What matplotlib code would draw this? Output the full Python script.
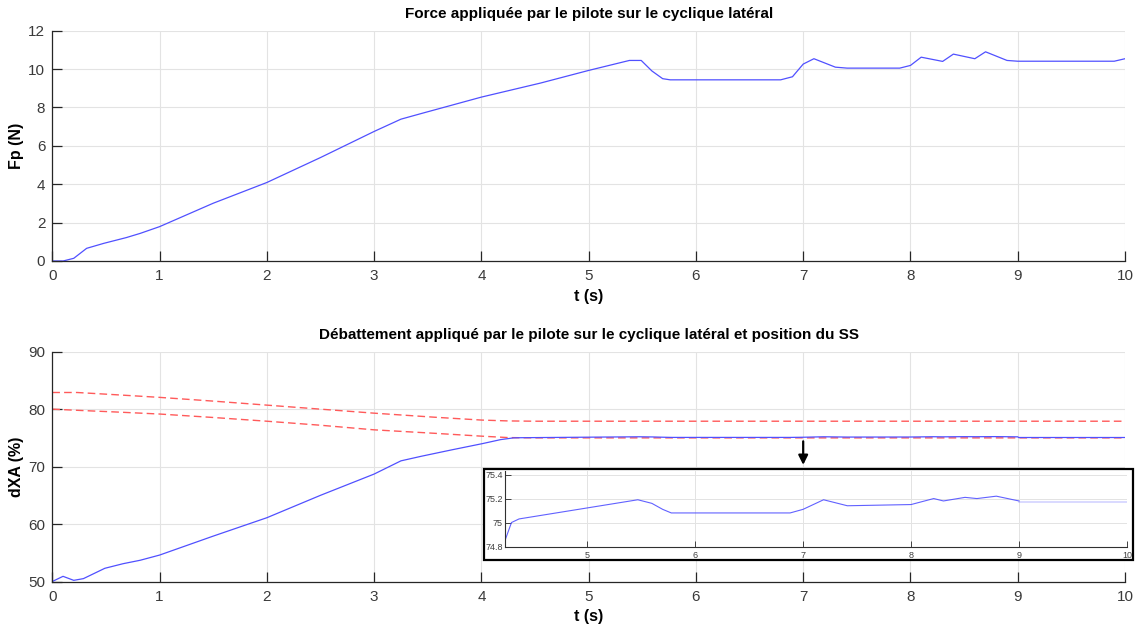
import matplotlib
matplotlib.use("Agg")
import matplotlib.pyplot as plt
from matplotlib.patches import Rectangle

plt.rcParams['font.family'] = ['Liberation Sans', 'DejaVu Sans']

# ---- data ----
t_fp = [0, 0.1, 0.2, 0.32, 0.48, 0.69, 0.82, 1.0, 1.5, 2.0, 2.5, 3.0, 3.25, 3.45,
        4.0, 4.55, 5.0, 5.38, 5.49, 5.59, 5.69, 5.76, 6.79, 6.9, 7.0, 7.1, 7.3, 7.41,
        7.9, 8.0, 8.1, 8.3, 8.4, 8.6, 8.7, 8.9, 9.0, 9.9, 10.0]
fp = [0, 0, 0.14, 0.66, 0.92, 1.22, 1.44, 1.79, 3.01, 4.09, 5.39, 6.75, 7.39, 7.7,
      8.54, 9.27, 9.93, 10.45, 10.45, 9.9, 9.5, 9.44, 9.44, 9.6, 10.26, 10.54, 10.1, 10.05,
      10.05, 10.19, 10.62, 10.4, 10.78, 10.54, 10.9, 10.45, 10.41, 10.41, 10.54]

t_dxa = [0, 0.1, 0.2, 0.29, 0.49, 0.66, 0.82, 1.0, 1.5, 2.0, 2.5, 3.0, 3.25, 3.44,
         3.72, 4.01, 4.18, 4.24, 4.30, 4.37, 5.47, 5.6, 5.7, 5.78, 6.88, 7.0, 7.19,
         7.41, 8.0, 8.21, 8.3, 8.5, 8.61, 8.79, 9.0]
dxa = [50, 50.9, 50.2, 50.5, 52.3, 53.1, 53.7, 54.6, 57.9, 61.1, 65.0, 68.7, 71.0, 71.8,
       72.9, 74.0, 74.7, 74.85, 75.0, 75.03, 75.19, 75.16, 75.11, 75.08, 75.08, 75.11, 75.19,
       75.14, 75.15, 75.2, 75.18, 75.21, 75.2, 75.22, 75.18]
t_dxa_end = [9.0, 10.0]
dxa_end = [75.175, 75.175]

t_ss = [0, 0.23, 0.6, 1.0, 1.5, 2.0, 2.5, 3.0, 3.56, 4.0, 4.25, 4.5, 10.0]
ss_high = [82.9, 82.9, 82.5, 82.05, 81.4, 80.7, 80.0, 79.3, 78.6, 78.1, 77.95, 77.9, 77.9]
ss_low = [80.0, 79.8, 79.5, 79.15, 78.55, 77.9, 77.2, 76.4, 75.8, 75.3, 75.05, 75.0, 75.0]

x_ticks = list(range(0, 11))
fp_ticks = [0, 2, 4, 6, 8, 10, 12]
dxa_ticks = [50, 60, 70, 80, 90]
inset_xticks = [5, 6, 7, 8, 9, 10]
inset_yticks = [74.8, 75, 75.2, 75.4]
inset_ylabels = ['74.8', '75', '75.2', '75.4']

title1 = "Force appliquée par le pilote sur le cyclique latéral"
title2 = "Débattement appliqué par le pilote sur le cyclique latéral et position du SS"

# ---- styling ----
BLUE = '#5050ff'
RED = '#ff5a5a'
TXT = '#262626'
TICKTXT = '#3a3a3a'
GRID = '#e3e3e3'

fig = plt.figure(figsize=(11.4, 6.26), dpi=100)
W, H = 1140, 626

def px_axes(l, t, r, b):
    return [l / W, 1 - b / H, (r - l) / W, (b - t) / H]

ax1 = fig.add_axes(px_axes(52.3, 30.7, 1125, 261))
ax2 = fig.add_axes(px_axes(52.3, 351.7, 1125, 581.5))

def style(ax):
    for s in ['top', 'right']:
        ax.spines[s].set_visible(False)
    for s in ['left', 'bottom']:
        ax.spines[s].set_color(TXT)
        ax.spines[s].set_linewidth(0.9)
    ax.grid(True, color=GRID, linewidth=0.8)
    ax.set_axisbelow(True)
    ax.tick_params(direction='in', length=7, width=0.9, color=TXT, labelcolor=TICKTXT,
                   labelsize=11)
    ax.tick_params(axis='x', pad=6)
    ax.tick_params(axis='y', pad=5)

ax1.plot(t_fp, fp, color=BLUE, lw=0.9)
ax1.set_xlim(0, 10)
ax1.set_ylim(0, 12)
ax1.set_xticks(x_ticks)
ax1.set_yticks(fp_ticks)
style(ax1)
ax1.set_title(title1, fontsize=11, fontweight='bold', pad=9)
ax1.set_xlabel("t (s)", fontsize=11.5, fontweight='bold', labelpad=4)
ax1.set_ylabel("Fp (N)", fontsize=11.5, fontweight='bold', labelpad=3)

ax2.plot(t_ss, ss_high, color=RED, lw=1.0, dashes=(5.5, 3))
ax2.plot(t_ss, ss_low, color=RED, lw=1.0, dashes=(5.5, 3))
ax2.plot(t_dxa, dxa, color=BLUE, lw=0.9)
ax2.plot(t_dxa_end, dxa_end, color=BLUE, lw=0.9)
ax2.set_xlim(0, 10)
ax2.set_ylim(50, 90)
ax2.set_xticks(x_ticks)
ax2.set_yticks(dxa_ticks)
style(ax2)
ax2.set_title(title2, fontsize=11, fontweight='bold', pad=9)
ax2.set_xlabel("t (s)", fontsize=11.5, fontweight='bold', labelpad=4)
ax2.set_ylabel("dXA (%)", fontsize=11.5, fontweight='bold', labelpad=3)

# arrow to inset
ax2.annotate('', xy=(7, 70.3), xytext=(7, 74.4),
             arrowprops=dict(arrowstyle='-|>', color='black', lw=1.6, mutation_scale=14,
                             shrinkA=0, shrinkB=0))

# inset frame
rect = Rectangle((484 / W, 1 - 560 / H), (1133 - 484) / W, (560 - 469) / H,
                 transform=fig.transFigure, facecolor='white', edgecolor='black',
                 linewidth=1.6, zorder=2)
fig.patches.append(rect)

axi = fig.add_axes(px_axes(505, 471, 1127, 546.5))
axi.set_zorder(3)
axi.patch.set_alpha(0)
axi.plot(t_dxa, dxa, color=BLUE, lw=0.8, alpha=0.9)
axi.plot(t_dxa_end, dxa_end, color=BLUE, lw=1.2, alpha=0.25)
axi.set_xlim(4.24, 10)
axi.set_ylim(74.8, 75.43)
axi.set_xticks(inset_xticks)
axi.set_yticks(inset_yticks)
axi.set_yticklabels(inset_ylabels)
for s in ['top', 'right']:
    axi.spines[s].set_visible(False)
for s in ['left', 'bottom']:
    axi.spines[s].set_color('#303030')
    axi.spines[s].set_linewidth(0.8)
axi.grid(True, color=GRID, linewidth=0.7)
axi.set_axisbelow(True)
axi.tick_params(direction='in', length=4, width=0.7, color='#404040', labelcolor='#404040',
                labelsize=6.5)
axi.tick_params(axis='x', pad=3.5)
axi.tick_params(axis='y', pad=1.5)

fig.savefig('out.png', dpi=100)
